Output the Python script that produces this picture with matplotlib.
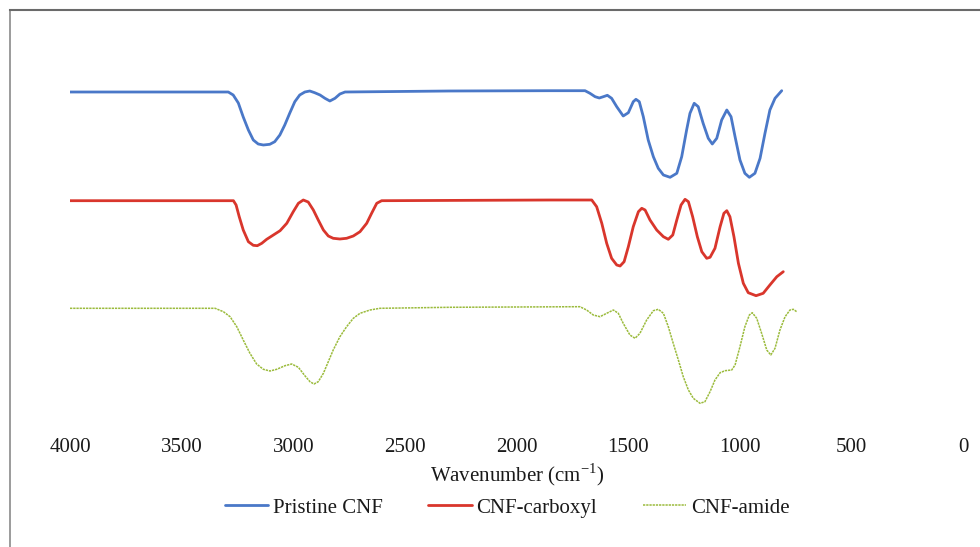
import numpy as np
import matplotlib
matplotlib.use("Agg")
import matplotlib.pyplot as plt
from matplotlib.lines import Line2D

plt.rcParams['font.family'] = ['Liberation Serif', 'DejaVu Serif']
plt.rcParams['mathtext.fontset'] = 'custom'
plt.rcParams['mathtext.rm'] = 'Liberation Serif'

# wavenumber (cm-1) and intensity (a.u., offset spectra)
wn_pristine = [4000, 3300, 3291, 3269, 3246, 3224, 3201, 3179, 3157, 3134, 3105, 3083, 3060,
               3038, 3016, 2993, 2971, 2948, 2926, 2904, 2880, 2858, 2836, 2813, 2791, 2768,
               2300, 1850, 1693, 1671, 1648, 1629, 1611, 1593, 1574, 1551, 1522, 1499, 1477,
               1465, 1450, 1432, 1410, 1387, 1365, 1342, 1312, 1282, 1260, 1238, 1223, 1204,
               1186, 1164, 1141, 1123, 1103, 1081, 1058, 1039, 1021, 999, 977, 957, 932, 909,
               887, 865, 842, 812]
y_pristine = [388, 388, 388, 385, 377, 363, 350, 340, 336, 335, 335.7, 338.3, 345,
              355, 366.7, 378.3, 385, 388, 389, 387.3, 385, 381.7, 379, 381.7, 386, 388,
              389, 389.3, 389.3, 386.7, 383.3, 382, 383.3, 384.7, 381.7, 373.3, 364, 367.3, 378.3,
              380.7, 378.3, 363.3, 340, 323.3, 311.7, 305, 302.7, 306.7, 323.3, 350, 366.7, 376.7,
              373.3, 356.7, 341.7, 336, 341.7, 360, 370, 363.3, 343.3, 320, 306.7, 302.7, 306.7, 321.7,
              346.7, 370, 381.7, 389.3]

wn_carboxyl = [4000, 3300, 3268, 3256, 3242, 3224, 3201, 3179, 3161, 3141, 3119, 3089, 3059,
               3029, 3000, 2977, 2955, 2933, 2910, 2888, 2865, 2843, 2821, 2791, 2761, 2731,
               2701, 2671, 2649, 2626, 2604, 1850, 1663, 1641, 1618, 1596, 1574, 1551, 1536,
               1518, 1499, 1477, 1454, 1439, 1424, 1402, 1372, 1342, 1320, 1300, 1282, 1263,
               1245, 1230, 1211, 1190, 1170, 1148, 1133, 1111, 1088, 1071, 1058, 1044, 1026,
               1006, 984, 962, 927, 895, 865, 834, 805]
y_carboxyl = [279.3, 279.3, 279.3, 275, 263.3, 250, 238.3, 234.7, 234.3, 236.7, 240.7, 245, 249.3,
              256.7, 268.3, 276.7, 280, 278, 270, 260, 250, 244, 241.7, 241, 241.7, 244,
              248.3, 256.7, 266.7, 276.7, 279.3, 280, 280, 273.3, 256.7, 236.7, 221.7, 215, 214,
              218.3, 233.3, 253.3, 268.3, 271.7, 270, 260, 250, 243.3, 240.7, 245, 260, 275,
              280.7, 278.3, 263.3, 243.3, 228.3, 221.7, 222.7, 231.7, 253.3, 266.7, 269.3, 263.3, 243.3,
              216.7, 196.7, 187.3, 184.3, 186.7, 195, 203.3, 208.3]

wn_amide = [4000, 3350, 3313, 3283, 3253, 3224, 3194, 3164, 3134, 3104, 3074, 3037, 3007,
            2977, 2947, 2925, 2907, 2888, 2865, 2843, 2821, 2791, 2761, 2731, 2701, 2656,
            2612, 2300, 1716, 1686, 1656, 1626, 1596, 1566, 1544, 1522, 1492, 1469, 1447,
            1417, 1387, 1365, 1342, 1320, 1298, 1275, 1253, 1230, 1208, 1178, 1156, 1133,
            1111, 1088, 1066, 1036, 1021, 999, 977, 957, 944, 924, 902, 879, 861, 842, 820,
            797, 775, 760, 745]
y_amide = [171.7, 171.7, 168.3, 163.3, 153.3, 140, 126.7, 116, 110.7, 109, 110.7, 114.3, 116,
           112.7, 104, 98.3, 96, 98.3, 106.7, 118.3, 130, 143.3, 153.3, 161.7, 166.7, 170,
           171.7, 172.7, 173.3, 170, 165, 163.3, 166.7, 170, 166.7, 156.7, 145, 141.7, 146.7,
           160, 169.3, 170.7, 166.7, 153.3, 136.7, 120, 103.3, 90, 81.7, 76.7, 78.3, 88.3,
           100, 107.3, 109.3, 110, 115, 133.3, 153.3, 165, 167.3, 161.7, 146.7, 130, 125, 131.7, 150,
           163.3, 170, 170.7, 168.3]

series = [("Pristine CNF", wn_pristine, y_pristine),
          ("CNF-carboxyl", wn_carboxyl, y_carboxyl),
          ("CNF-amide", wn_amide, y_amide)]
colors = ['#4a78c8', '#d9362c', '#9bbb3c']
styles = [dict(lw=2.0, ls='-'), dict(lw=2.0, ls='-'), dict(lw=1.1, ls=(0, (1.5, 0.6)))]
xticks = [4000, 3500, 3000, 2500, 2000, 1500, 1000, 500, 0]

W, H = 980, 547
fig = plt.figure(figsize=(W / 100, H / 100), dpi=100)
ax = fig.add_axes([70 / W, (H - 430) / H, (963 - 70) / W, 390 / H])

for (name, wn, y), c, st in zip(series, colors, styles):
    ax.plot(wn, y, color=c, label=name, solid_capstyle='round',
            solid_joinstyle='round', dash_joinstyle='round', **st)

ax.set_xlim(4000, 0)
ax.set_ylim(50, 440)
ax.set_xticks(xticks)
ax.set_xticklabels([str(t) for t in xticks])
ax.set_yticks([])
ax.tick_params(axis='x', length=0, pad=6, labelsize=15, colors='#1a1a1a')
for s in ax.spines.values():
    s.set_visible(False)

fig.text(517 / W, 1 - 475 / H, r'Wavenumber (cm$^{\mathregular{-1}}$)', ha='center',
         va='center', fontsize=15, color='#1a1a1a')

handles, labels = ax.get_legend_handles_labels()
fig.legend(handles, labels, loc='center', bbox_to_anchor=(507 / W, 1 - 508 / H), ncol=3,
           frameon=False, fontsize=15, handlelength=2.1, handletextpad=0.2,
           columnspacing=2.2, labelcolor='#1a1a1a')

# outer frame (left and top edges visible)
fig.add_artist(Line2D([10 / W, 10 / W], [0, 1 - 10 / H], color='#8a8a8a', lw=1.2,
                      transform=fig.transFigure))
fig.add_artist(Line2D([10 / W, 1], [1 - 10 / H, 1 - 10 / H], color='#6a6a6a', lw=1.5,
                      transform=fig.transFigure))

fig.savefig("out.png", dpi=100)
